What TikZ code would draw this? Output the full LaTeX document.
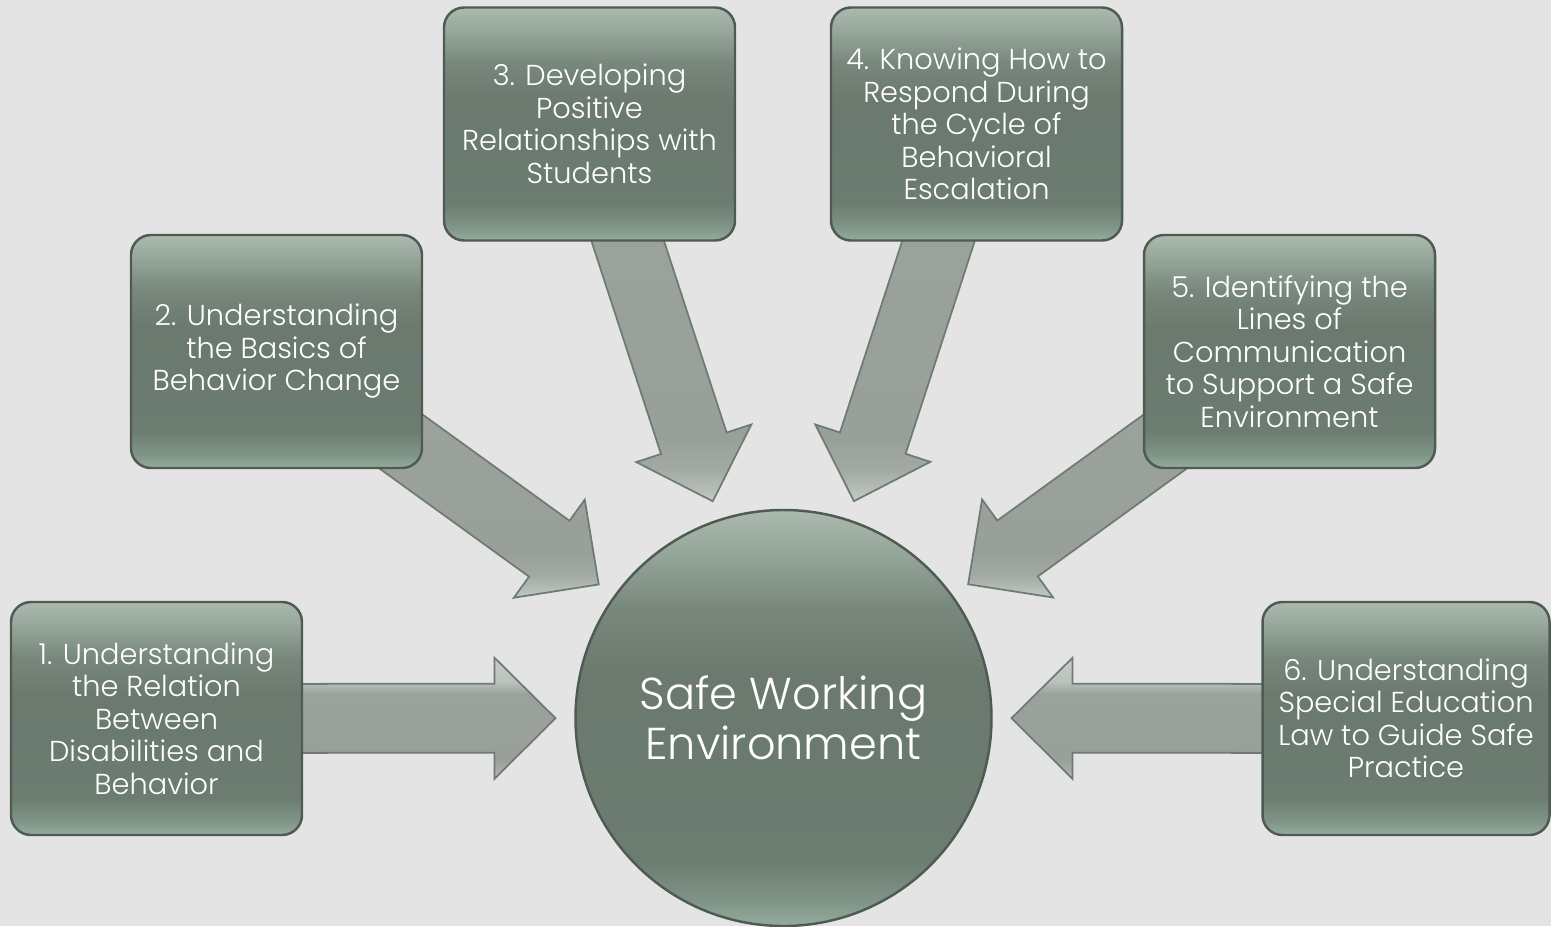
\documentclass[tikz,border=0pt]{standalone}
\usepackage{fontspec}
\setmainfont{Poppins}[UprightFont={* Light}]
\usetikzlibrary{calc,backgrounds}

\definecolor{paper}{HTML}{E4E4E4}
\definecolor{rim}{HTML}{4E5B52}
\definecolor{arrowrim}{HTML}{6F7B72}
% fill of the boxes and the hub, bottom to top
\definecolor{slabA}{HTML}{95AC9D}
\definecolor{slabB}{HTML}{7F9487}
\definecolor{slabC}{HTML}{6C7C71}
\definecolor{slabD}{HTML}{6B796F}
\definecolor{slabE}{HTML}{78877C}
\definecolor{slabF}{HTML}{97A69B}
\definecolor{slabG}{HTML}{ABBAAE}
% fill of the block arrows
\definecolor{chuteA}{HTML}{C2CAC4}
\definecolor{chuteB}{HTML}{A3AAA4}
\definecolor{chuteC}{HTML}{99A09A}
\definecolor{chuteD}{HTML}{9BA29C}
\definecolor{chuteF}{HTML}{BAC1BC}
\definecolor{chuteE}{HTML}{C8CFCA}

\pgfdeclareverticalshading{slab}{100bp}{color(0bp)=(slabA); color(25bp)=(slabA);
  color(28bp)=(slabB); color(33bp)=(slabC); color(55bp)=(slabD); color(63bp)=(slabE);
  color(70bp)=(slabF); color(75bp)=(slabG); color(100bp)=(slabG)}
\pgfdeclareverticalshading{chute}{100bp}{color(0bp)=(chuteA); color(25bp)=(chuteA);
  color(29bp)=(chuteB); color(33bp)=(chuteC); color(60bp)=(chuteD); color(65bp)=(chuteF);
  color(75bp)=(chuteE); color(100bp)=(chuteE)}

\tikzset{
  topic/.style={rectangle, rounded corners=0.2cm, draw=rim, line width=0.7pt,
    shade, shading=slab, minimum width=2.91cm, minimum height=2.33cm, inner sep=0pt,
    text=white, align=center, font=\fontsize{8.2}{9.25}\selectfont},
  hub/.style={circle, draw=rim, line width=0.7pt, shade, shading=slab,
    minimum size=4.16cm, inner sep=0pt, text=white, align=center,
    font=\fontsize{12.7}{14.2}\selectfont},
  % fat arrow from a box centre, tip stopping short of the hub
  feed/.style={draw=arrowrim, line width=0.5pt, shade, shading=chute,
    to path={let \p1=(\tikztostart), \p2=(\tikztotarget),
      \n1={atan2(\y1-\y2,\x1-\x2)}, \n2={veclen(\x1-\x2,\y1-\y2)} in
      [shift={(\p2)}, rotate=\n1]
      (2.28cm,0cm) -- (2.89cm,0.605cm) -- (2.89cm,0.345cm) -- (\n2,0.345cm)
      -- (\n2,-0.345cm) -- (2.89cm,-0.345cm) -- (2.89cm,-0.605cm) -- cycle}}
}

\begin{document}
\begin{tikzpicture}
  \useasboundingbox (0,0) rectangle (15.51,9.26);

  \node[hub] (hub) at (7.835,2.08) {Safe Working\\Environment};

  \node[topic] (b1) at (1.565,2.075) {1. Understanding\\the Relation\\Between\\Disabilities and\\Behavior};
  \node[topic] (b2) at (2.765,5.745) {2. Understanding\\the Basics of\\Behavior Change};
  \node[topic] (b3) at (5.895,8.02) {3. Developing\\Positive\\Relationships with\\Students};
  \node[topic] (b4) at (9.765,8.02) {4. Knowing How to\\Respond During\\the Cycle of\\Behavioral\\Escalation};
  \node[topic] (b5) at (12.895,5.745) {5. Identifying the\\Lines of\\Communication\\to Support a Safe\\Environment};
  \node[topic, minimum width=2.87cm] (b6) at (14.06,2.075) {6. Understanding\\Special Education\\Law to Guide Safe\\Practice};

  \begin{scope}[on background layer]
    \fill[paper] (0,0) rectangle (15.51,9.26);
    \foreach \b in {b1,b2,b3,b4,b5,b6}
      \draw[feed] (\b) to (hub);
  \end{scope}
\end{tikzpicture}
\end{document}
